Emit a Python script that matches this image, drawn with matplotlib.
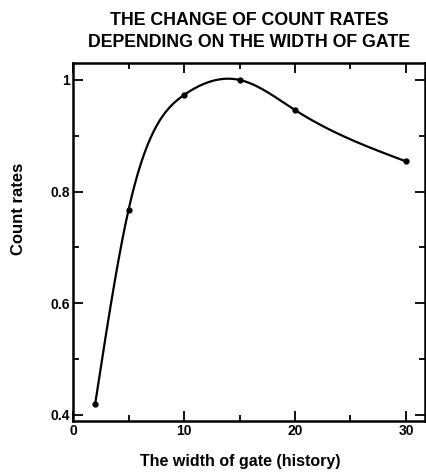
import numpy as np
import matplotlib.pyplot as plt
from matplotlib.ticker import MultipleLocator

# data
gate_width = [2, 5, 10, 15, 20, 30]
count_rate = [0.42, 0.767, 0.973, 1.0, 0.946, 0.854]


def natural_spline(x, y, n=300):
    """natural cubic spline through the points, only for drawing the line"""
    x = np.asarray(x, float)
    y = np.asarray(y, float)
    k = len(x)
    h = np.diff(x)
    A = np.zeros((k, k))
    b = np.zeros(k)
    A[0, 0] = A[-1, -1] = 1
    for i in range(1, k - 1):
        A[i, i - 1] = h[i - 1]
        A[i, i] = 2 * (h[i - 1] + h[i])
        A[i, i + 1] = h[i]
        b[i] = 6 * ((y[i + 1] - y[i]) / h[i] - (y[i] - y[i - 1]) / h[i - 1])
    M = np.linalg.solve(A, b)
    xs = np.linspace(x[0], x[-1], n)
    j = np.clip(np.searchsorted(x, xs) - 1, 0, k - 2)
    t1 = x[j + 1] - xs
    t0 = xs - x[j]
    hj = h[j]
    ys = (M[j] * t1**3 + M[j + 1] * t0**3) / (6 * hj) \
        + (y[j] / hj - M[j] * hj / 6) * t1 + (y[j + 1] / hj - M[j + 1] * hj / 6) * t0
    return xs, ys


plt.rcParams['font.family'] = ['Liberation Sans', 'DejaVu Sans']
plt.rcParams['font.weight'] = 'bold'

fig = plt.figure(figsize=(4.27, 4.75), dpi=100)
ax = fig.add_axes([0.171, 0.114, 0.824, 0.753])

xs, ys = natural_spline(gate_width, count_rate)
ax.plot(xs, ys, color='black', lw=1.6)
ax.plot(gate_width, count_rate, 'o', color='black', ms=3.5)

ax.set_xlim(0, 31.7)
ax.set_ylim(0.389, 1.03)
ax.xaxis.set_major_locator(MultipleLocator(10))
ax.xaxis.set_minor_locator(MultipleLocator(5))
ax.yaxis.set_minor_locator(MultipleLocator(0.1))
ax.set_yticks([0.4, 0.6, 0.8, 1.0])
ax.set_yticklabels(['0.4', '0.6', '0.8', '1'])

ax.tick_params(which='both', direction='in', top=True, right=True,
               width=1.3, labelsize=10, pad=2)
ax.tick_params(which='major', length=7)
ax.tick_params(which='minor', length=4)
for s in ax.spines.values():
    s.set_linewidth(1.8)

ax.set_title('THE CHANGE OF COUNT RATES\nDEPENDING ON THE WIDTH OF GATE',
             fontsize=12.8, fontweight='bold', pad=12, linespacing=1.35)
ax.set_xlabel('The width of gate (history)', fontsize=11.5, fontweight='bold',
              va='center')
ax.set_ylabel('Count rates', fontsize=12, fontweight='bold', va='center')
ax.xaxis.set_label_coords(0.474, -0.115)
ax.yaxis.set_label_coords(-0.156, 0.593)

fig.savefig('out.png', dpi=100)
